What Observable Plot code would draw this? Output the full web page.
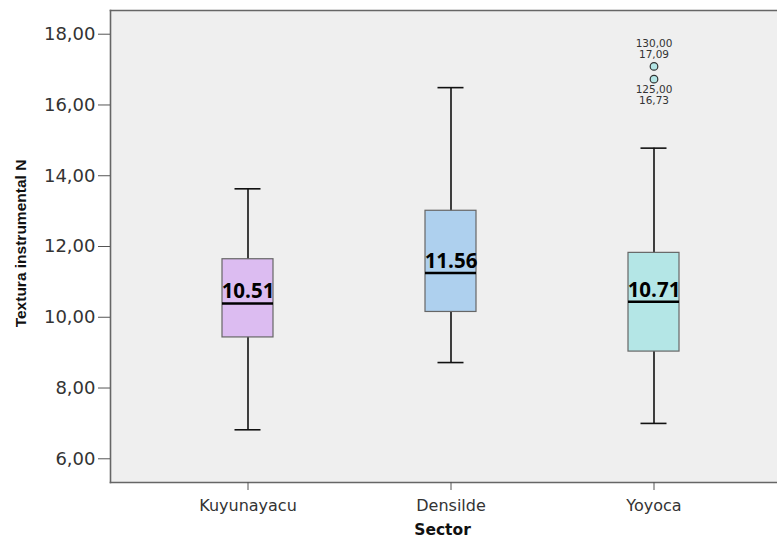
<!DOCTYPE html>
<html>
<head>
<meta charset="utf-8">
<script src="https://cdn.jsdelivr.net/npm/d3@7"></script>
<script src="https://cdn.jsdelivr.net/npm/@observablehq/plot@0.6"></script>
<style>
  html, body { margin: 0; padding: 0; background: #fff; overflow: hidden; }
  #chart { width: 777px; height: 544px; overflow: hidden; }
  #chart svg { display: block; max-width: none; }
</style>
</head>
<body>
<div id="chart"></div>
<script>
// Box plot summary per sector (Textura instrumental N)
const sectors = ["Kuyunayacu", "Densilde", "Yoyoca"];
const whiskerLow = [6.82, 8.72, 7.00];
const q1 = [9.43, 10.15, 9.03];
const median = [10.39, 11.25, 10.44];
const q3 = [11.64, 13.01, 11.82];
const whiskerHigh = [13.63, 16.49, 14.78];
const means = [10.51, 11.56, 10.71];

// Outlying cases (case number, value)
const outlierSector = ["Yoyoca", "Yoyoca"];
const outlierCase = [130, 125];
const outlierValue = [17.09, 16.73];

const yTicks = [6, 8, 10, 12, 14, 16, 18];
const boxColors = ["#dcbcf1", "#aed0ee", "#b4e6e6"];

const boxes = sectors.map((s, i) => ({
  sector: s, lo: whiskerLow[i], q1: q1[i], med: median[i], q3: q3[i], hi: whiskerHigh[i], mean: means[i]
}));
const outliers = outlierSector.map((s, i) => ({
  sector: s, id: outlierCase[i], value: outlierValue[i]
}));
const topOut = d3.max(outlierValue);
const comma = d => d3.format(".2f")(d).replace(".", ",");
const outlierText = d => `${comma(d.id)}\n${comma(d.value)}`;

const border = { stroke: "#666", strokeWidth: 1.6 };

// The plot area runs past the right edge of the visible page.
const chart = Plot.plot({
  width: 830,
  height: 544,
  marginTop: 10,
  marginBottom: 62,
  marginLeft: 110,
  marginRight: 40,
  style: { fontFamily: "DejaVu Sans", background: "#fff" },
  x: { domain: sectors, type: "band", paddingInner: 0.75, paddingOuter: 0.5417, axis: null },
  y: { domain: [5.33, 18.67], axis: null },
  color: { domain: sectors, range: boxColors },
  marks: [
    Plot.frame({ fill: "#efefef", stroke: "none" }),
    Plot.frame({ anchor: "top", ...border }),
    Plot.frame({ anchor: "left", ...border }),
    Plot.frame({ anchor: "bottom", ...border }),
    Plot.axisY({
      ticks: yTicks, tickSize: 12, tickPadding: 3, tickFormat: comma,
      fontSize: 18, stroke: "#555", fill: "#333", label: null
    }),
    Plot.axisX({
      tickSize: 8, tickPadding: 9, fontSize: 16, stroke: "#555", fill: "#333", label: null
    }),
    // whiskers
    Plot.ruleX(boxes, { x: "sector", y1: "lo", y2: "hi", stroke: "#111", strokeWidth: 1.6 }),
    Plot.tickY(boxes, { x: "sector", y: "lo", stroke: "#111", strokeWidth: 1.6, insetLeft: 12.5, insetRight: 12.5 }),
    Plot.tickY(boxes, { x: "sector", y: "hi", stroke: "#111", strokeWidth: 1.6, insetLeft: 12.5, insetRight: 12.5 }),
    // interquartile boxes
    Plot.barY(boxes, { x: "sector", y1: "q1", y2: "q3", fill: "sector", stroke: "#666", strokeWidth: 1.2 }),
    // medians
    Plot.tickY(boxes, { x: "sector", y: "med", stroke: "#000", strokeWidth: 2.6 }),
    // mean values
    Plot.text(boxes, {
      x: "sector", y: "med", text: d => d.mean.toFixed(2), dy: -5, lineAnchor: "bottom",
      fontFamily: "Open Sans", fontWeight: 700, fontSize: 20.5, fill: "#000"
    }),
    // outliers
    Plot.dot(outliers, { x: "sector", y: "value", r: 3.8, fill: "#b4e6e6", stroke: "#333", strokeWidth: 1.2 }),
    Plot.text(outliers, {
      filter: d => d.value === topOut,
      x: "sector", y: "value", text: outlierText,
      lineAnchor: "bottom", dy: -8, fontSize: 10.5, lineHeight: 1.05, fill: "#333"
    }),
    Plot.text(outliers, {
      filter: d => d.value !== topOut,
      x: "sector", y: "value", text: outlierText,
      lineAnchor: "top", dy: 6, fontSize: 10.5, lineHeight: 1.05, fill: "#333"
    }),
    // axis titles
    Plot.text(["Textura instrumental N"], {
      frameAnchor: "left", dx: -89, dy: -3, rotate: -90, textAnchor: "middle", fontWeight: "bold",
      fontFamily: "Liberation Sans", fontSize: 15.5, fill: "#111"
    }),
    Plot.text(["Sector"], {
      frameAnchor: "bottom", dx: -8, dy: 52, fontWeight: "bold", fontSize: 15.5, fill: "#111"
    })
  ]
});

document.getElementById("chart").appendChild(chart);
</script>
</body>
</html>
